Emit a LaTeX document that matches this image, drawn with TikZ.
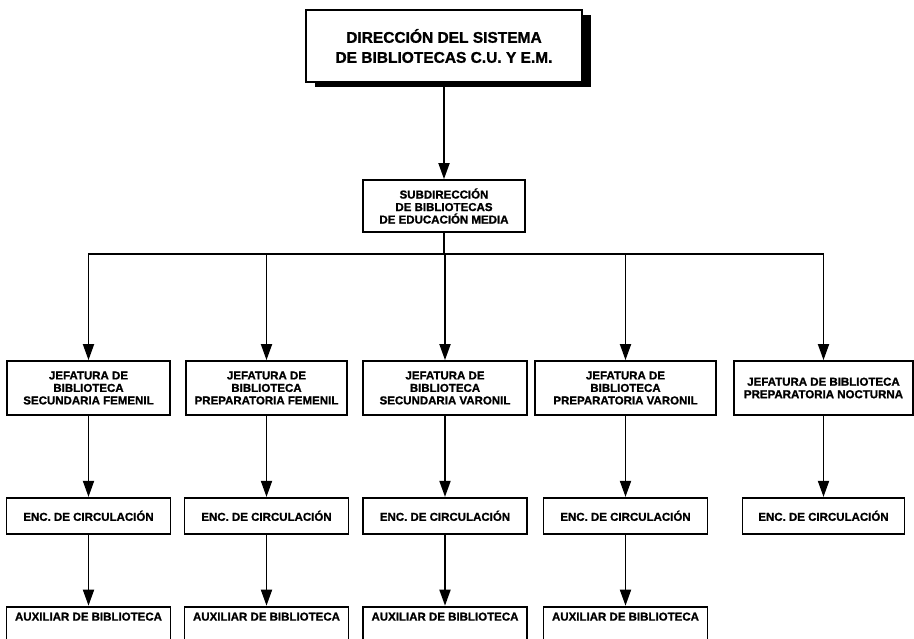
\documentclass[tikz,border=0pt]{standalone}
\usepackage{fontspec}
\setmainfont{Liberation Sans}[BoldFeatures={FakeBold=1.2}]
\usetikzlibrary{arrows.meta, positioning, shadows}

\begin{document}
\begin{tikzpicture}[
        x=1pt, y=1pt,
        node distance=81pt,
        orgbox/.style={
            draw,
            line width=1.8pt,
            align=center,
            inner sep=0pt,
            fill=white,
            font=\bfseries\fontsize{11.5}{12.5}\selectfont
        },
        headbox/.style={orgbox, minimum height=54pt},
        taskbox/.style={orgbox, minimum width=164pt, minimum height=36pt},
        helperbox/.style={orgbox, minimum width=164pt, text height=8pt, text depth=42pt, inner ysep=6pt},
        buslink/.style={line width=1.8pt, line cap=rect},
        downlink/.style={-{Triangle[length=16pt, width=11pt]}, line width=1.8pt}
    ]
        \useasboundingbox (0,0) rectangle (914,638);

        \node[
            orgbox,
            minimum width=276pt,
            minimum height=72pt,
            font=\bfseries\fontsize{15.5}{20}\selectfont,
            drop shadow={shadow xshift=9pt, shadow yshift=-5pt, fill=black, opacity=1}
        ] (direccion) at (444,592) {DIRECCIÓN DEL SISTEMA\\DE BIBLIOTECAS C.U. Y E.M.};
        \node[orgbox, minimum width=162pt, minimum height=52pt] (subdireccion) at (444,432)
            {SUBDIRECCIÓN\\DE BIBLIOTECAS\\DE EDUCACIÓN MEDIA};

        \node[headbox, minimum width=163pt] (secfemenil) at (88.5,250)
            {JEFATURA DE\\BIBLIOTECA\\SECUNDARIA FEMENIL};
        \node[headbox, minimum width=161pt] (prepfemenil) at (266.5,250)
            {JEFATURA DE\\BIBLIOTECA\\PREPARATORIA FEMENIL};
        \node[headbox, minimum width=164pt] (secvaronil) at (445,250)
            {JEFATURA DE\\BIBLIOTECA\\SECUNDARIA VARONIL};
        \node[headbox, minimum width=181pt] (prepvaronil) at (625.5,250)
            {JEFATURA DE\\BIBLIOTECA\\PREPARATORIA VARONIL};
        \node[headbox, minimum width=179pt] (prepnocturna) at (823.5,250)
            {JEFATURA DE BIBLIOTECA\\PREPARATORIA NOCTURNA};

        \node[taskbox, below=of secfemenil] (encsecfemenil) {ENC. DE CIRCULACIÓN};
        \node[taskbox, below=of prepfemenil] (encprepfemenil) {ENC. DE CIRCULACIÓN};
        \node[taskbox, below=of secvaronil] (encsecvaronil) {ENC. DE CIRCULACIÓN};
        \node[taskbox, below=of prepvaronil] (encprepvaronil) {ENC. DE CIRCULACIÓN};
        \node[taskbox, minimum width=162pt, below=of prepnocturna] (encprepnocturna) {ENC. DE CIRCULACIÓN};

        \node[helperbox, below=71pt of encsecfemenil] (auxsecfemenil) {AUXILIAR DE BIBLIOTECA};
        \node[helperbox, below=71pt of encprepfemenil] (auxprepfemenil) {AUXILIAR DE BIBLIOTECA};
        \node[helperbox, below=71pt of encsecvaronil] (auxsecvaronil) {AUXILIAR DE BIBLIOTECA};
        \node[helperbox, below=71pt of encprepvaronil] (auxprepvaronil) {AUXILIAR DE BIBLIOTECA};

        % distribution bus
        \coordinate (bus) at (444,384);
        \draw[downlink] (direccion.south) -- (subdireccion.north);
        \draw[buslink] (subdireccion.south) -- (bus);
        \draw[buslink] (secfemenil |- bus) -- (prepnocturna |- bus);
        \draw[downlink] (secfemenil |- bus) -- (secfemenil.north);
        \draw[downlink] (prepfemenil |- bus) -- (prepfemenil.north);
        \draw[downlink] (secvaronil |- bus) -- (secvaronil.north);
        \draw[downlink] (prepvaronil |- bus) -- (prepvaronil.north);
        \draw[downlink] (prepnocturna |- bus) -- (prepnocturna.north);

        \draw[downlink] (secfemenil.south) -- (encsecfemenil.north);
        \draw[downlink] (prepfemenil.south) -- (encprepfemenil.north);
        \draw[downlink] (secvaronil.south) -- (encsecvaronil.north);
        \draw[downlink] (prepvaronil.south) -- (encprepvaronil.north);
        \draw[downlink] (prepnocturna.south) -- (encprepnocturna.north);

        \draw[downlink] (encsecfemenil.south) -- (auxsecfemenil.north);
        \draw[downlink] (encprepfemenil.south) -- (auxprepfemenil.north);
        \draw[downlink] (encsecvaronil.south) -- (auxsecvaronil.north);
        \draw[downlink] (encprepvaronil.south) -- (auxprepvaronil.north);
    \end{tikzpicture}
\end{document}
